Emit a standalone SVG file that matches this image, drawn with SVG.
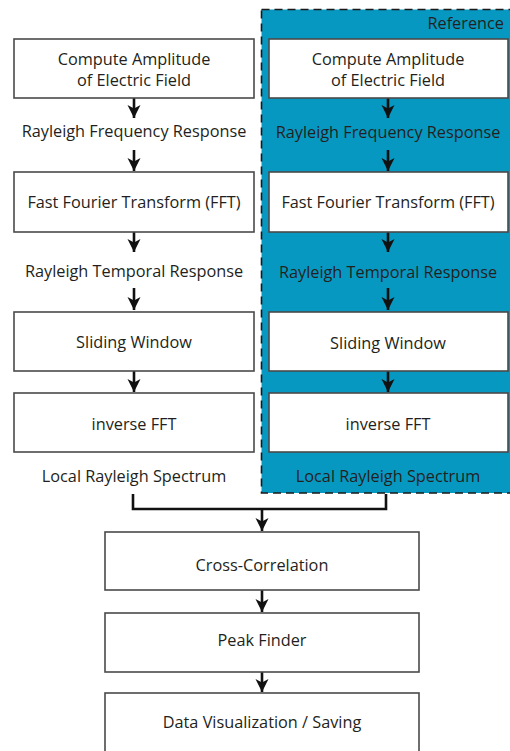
<svg xmlns="http://www.w3.org/2000/svg" width="510" height="751" viewBox="0 0 510 751">
<style>
.box{fill:#fff;stroke:#4a4a4a;stroke-width:1.6}
.t{font-family:"Open Sans","Liberation Sans",sans-serif;font-size:16.3px;fill:#231f20;text-anchor:middle}
.c{fill:none;stroke:#111;stroke-width:2.6}
</style>
<defs>
<marker id="ah" markerUnits="userSpaceOnUse" viewBox="-1 -7 15 14" markerWidth="15" markerHeight="14" refX="13" refY="0" orient="auto">
<path d="M0,-6.5 L13,0 L0,6.5 L3.5,0 z" fill="#111"/>
</marker>
</defs>
<rect width="510" height="751" fill="#fff"/>
<g id="reference-region">
<rect x="261.5" y="9.5" width="262" height="483.5" fill="#0798c2" stroke="#1a1a1a" stroke-width="1.6" stroke-dasharray="8,5"/>
<text class="t" x="504" y="29" style="text-anchor:end">Reference</text>
</g>
<g id="connectors">
<line class="c" x1="134" y1="98" x2="134" y2="118" marker-end="url(#ah)"/>
<line class="c" x1="134" y1="150" x2="134" y2="171" marker-end="url(#ah)"/>
<line class="c" x1="134" y1="232" x2="134" y2="252" marker-end="url(#ah)"/>
<line class="c" x1="134" y1="288" x2="134" y2="310" marker-end="url(#ah)"/>
<line class="c" x1="134" y1="371" x2="134" y2="392" marker-end="url(#ah)"/>
<line class="c" x1="388" y1="98" x2="388" y2="118" marker-end="url(#ah)"/>
<line class="c" x1="388" y1="150" x2="388" y2="171" marker-end="url(#ah)"/>
<line class="c" x1="388" y1="232" x2="388" y2="252" marker-end="url(#ah)"/>
<line class="c" x1="388" y1="288" x2="388" y2="310" marker-end="url(#ah)"/>
<line class="c" x1="388" y1="371" x2="388" y2="392" marker-end="url(#ah)"/>
<polyline class="c" points="133,494 133,509 386,509 386,494" stroke-width="2.8"/>
<line class="c" x1="262" y1="509" x2="262" y2="531" marker-end="url(#ah)"/>
<line class="c" x1="262" y1="590" x2="262" y2="612" marker-end="url(#ah)"/>
<line class="c" x1="262" y1="672" x2="262" y2="692" marker-end="url(#ah)"/>
</g>
<g id="l-compute">
<rect class="box" x="14" y="39" width="240" height="59"/>
<text class="t" x="134" y="65">Compute Amplitude</text>
<text class="t" x="134" y="85.5">of Electric Field</text>
</g>
<g id="l-freq"><text class="t" x="134" y="137">Rayleigh Frequency Response</text></g>
<g id="l-fft">
<rect class="box" x="14" y="172" width="240" height="60"/>
<text class="t" x="134" y="208">Fast Fourier Transform (FFT)</text>
</g>
<g id="l-temp"><text class="t" x="134" y="277">Rayleigh Temporal Response</text></g>
<g id="l-slide">
<rect class="box" x="14" y="312" width="240" height="59"/>
<text class="t" x="134" y="348">Sliding Window</text>
</g>
<g id="l-ifft">
<rect class="box" x="14" y="393" width="240" height="59"/>
<text class="t" x="134" y="430">inverse FFT</text>
</g>
<g id="l-local"><text class="t" x="134" y="481.5">Local Rayleigh Spectrum</text></g>
<g id="r-compute">
<rect class="box" x="269" y="39" width="239" height="59"/>
<text class="t" x="388" y="65">Compute Amplitude</text>
<text class="t" x="388" y="85.5">of Electric Field</text>
</g>
<g id="r-freq"><text class="t" x="388" y="138">Rayleigh Frequency Response</text></g>
<g id="r-fft">
<rect class="box" x="269" y="172" width="239" height="60"/>
<text class="t" x="388" y="208">Fast Fourier Transform (FFT)</text>
</g>
<g id="r-temp"><text class="t" x="388" y="278">Rayleigh Temporal Response</text></g>
<g id="r-slide">
<rect class="box" x="269" y="312" width="239" height="59"/>
<text class="t" x="388" y="349">Sliding Window</text>
</g>
<g id="r-ifft">
<rect class="box" x="269" y="393" width="239" height="59"/>
<text class="t" x="388" y="430">inverse FFT</text>
</g>
<g id="r-local"><text class="t" x="388" y="481.5">Local Rayleigh Spectrum</text></g>
<g id="xcorr">
<rect class="box" x="105" y="532" width="314" height="58"/>
<text class="t" x="262" y="571">Cross-Correlation</text>
</g>
<g id="peak">
<rect class="box" x="105" y="613" width="314" height="59"/>
<text class="t" x="262" y="646">Peak Finder</text>
</g>
<g id="dataviz">
<rect class="box" x="105" y="693" width="314" height="60"/>
<text class="t" x="262" y="728">Data Visualization / Saving</text>
</g>
</svg>
